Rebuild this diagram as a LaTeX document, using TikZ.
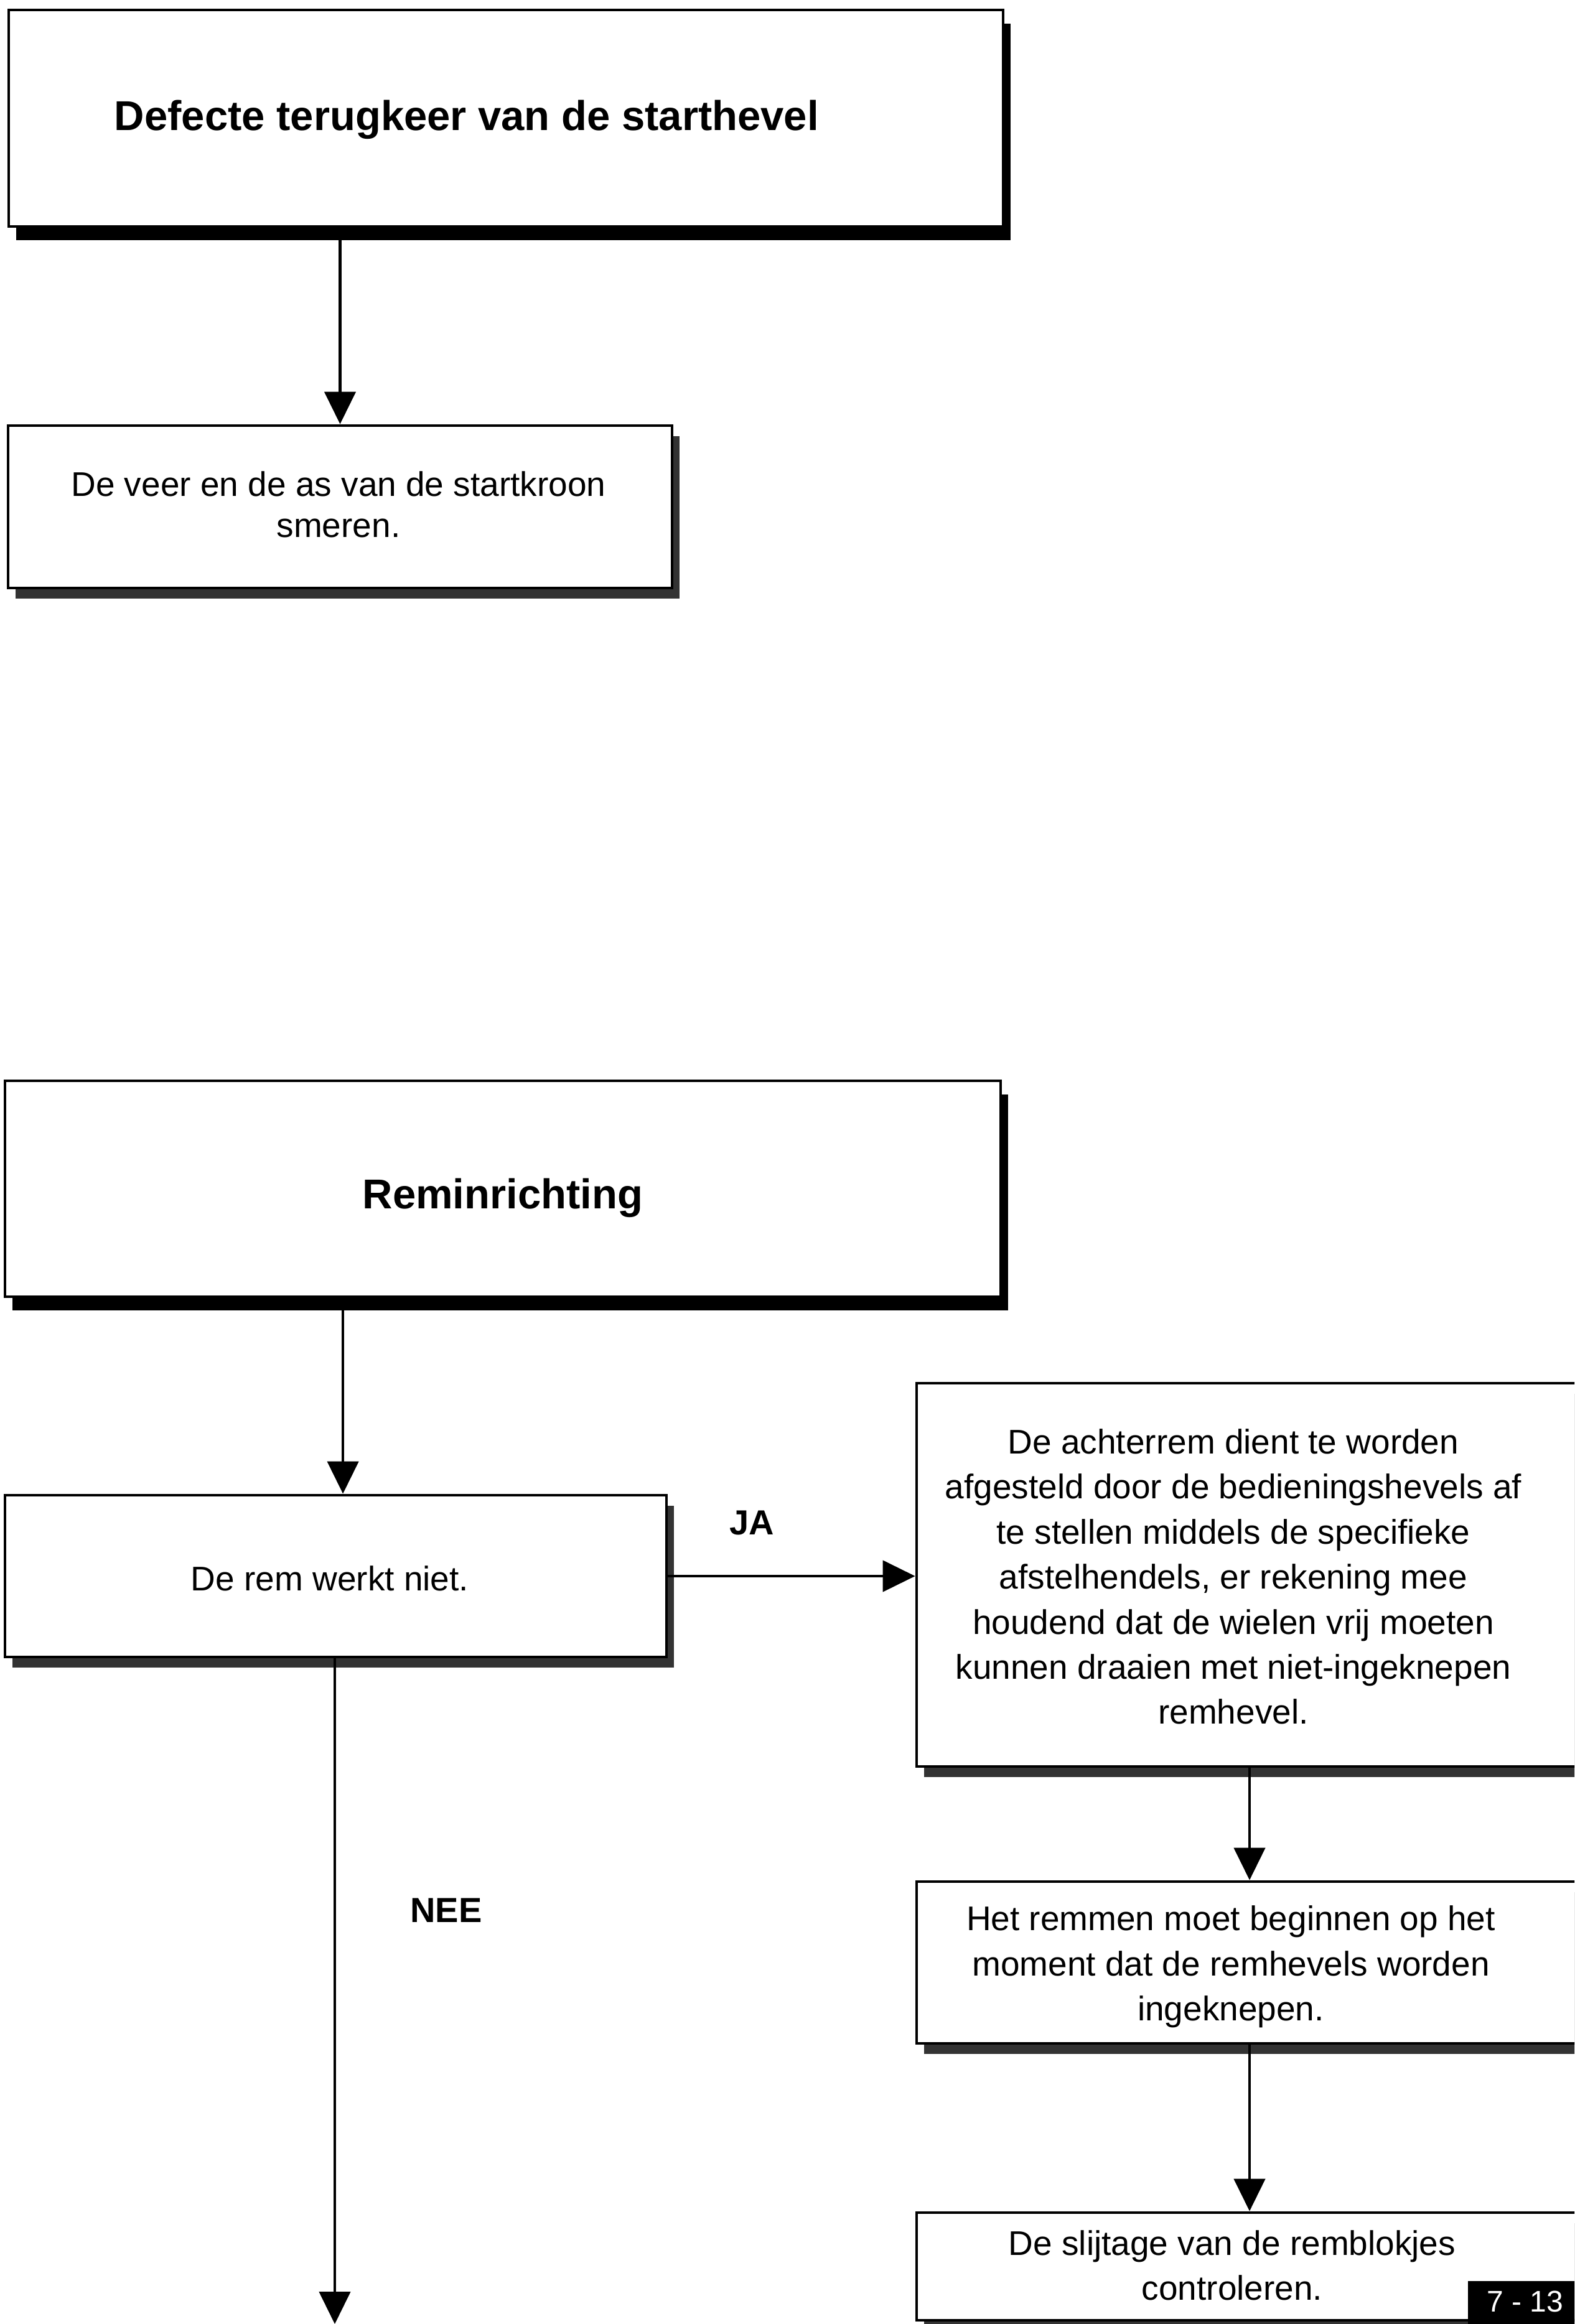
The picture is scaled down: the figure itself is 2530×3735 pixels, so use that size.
\documentclass[tikz,border=0pt]{standalone}
\usepackage{fontspec}
\setmainfont{Liberation Sans}
\usetikzlibrary{arrows.meta,shadows}

\begin{document}
\begin{tikzpicture}[x=0.25pt, y=-0.25pt,
  titlebox/.style={draw, line width=1.2pt, fill=white, inner sep=0pt,
    drop shadow={shadow xshift=3pt, shadow yshift=-5.5pt, fill=black, opacity=1}},
  stepbox/.style={draw, line width=1.2pt, fill=white, inner sep=0pt,
    drop shadow={shadow xshift=3pt, shadow yshift=-4.25pt, fill=black!80, opacity=1}},
  headtext/.style={font=\fontsize{16.75pt}{20pt}\selectfont\bfseries, inner sep=0pt},
  bodytext/.style={font=\fontsize{13.75pt}{18.1pt}\selectfont, align=center, inner sep=0pt},
  answer/.style={font=\fontsize{14pt}{16pt}\selectfont\bfseries, inner sep=0pt},
  flow/.style={line width=1.1pt, -{Triangle[length=13pt, width=12.5pt]}},
]
\useasboundingbox (0,0) rectangle (2530,3735);
\clip (0,0) rectangle (2530,3735);
\fill[white] (0,0) rectangle (2530,3735);

% --- starter return fault ---
\node[titlebox, minimum width=399.5pt, minimum height=87pt] (b1) at (813,190) {};
\node[headtext, anchor=base] (t1) at (750,210) {Defecte terugkeer van de starthevel};

\node[stepbox, minimum width=266.75pt, minimum height=65.25pt] (b2) at (546.5,814.5) {};
\node[bodytext, font=\fontsize{13.75pt}{16.5pt}\selectfont] (t2) at (544,811)
  {De veer en de as van de startkroon\\smeren.};

\draw[flow] (b1.south -| b2.north) -- (b2.north);

% --- brake system ---
\node[titlebox, minimum width=400pt, minimum height=86.75pt] (b3) at (808,1910.5) {};
\node[headtext, anchor=base] (t3) at (808,1942) {Reminrichting};

\node[stepbox, minimum width=265.75pt, minimum height=65pt] (b4) at (539.5,2533) {};
\node[bodytext] (t4) at (530,2537) {De rem werkt niet.};

\node[stepbox, minimum width=267.5pt, minimum height=154pt] (b5) at (2008,2531) {};
\node[bodytext] (t5) at (1982,2534)
  {De achterrem dient te worden\\
   afgesteld door de bedieningshevels af\\
   te stellen middels de specifieke\\
   afstelhendels, er rekening mee\\
   houdend dat de wielen vrij moeten\\
   kunnen draaien met niet-ingeknepen\\
   remhevel.};

\node[stepbox, minimum width=267.5pt, minimum height=65pt] (b6) at (2008,3154) {};
\node[bodytext] (t6) at (1978,3161)
  {Het remmen moet beginnen op het\\
   moment dat de remhevels worden\\
   ingeknepen.};

\node[stepbox, minimum width=267.5pt, minimum height=43.25pt] (b7) at (2008,3642.5) {};
\node[bodytext] (t7) at (1980,3640.5)
  {De slijtage van de remblokjes\\controleren.};

\coordinate (noend) at (538,3735);

\draw[flow] ([xshift=2.9pt]b4.north |- b3.south) -- ([xshift=2.9pt]b4.north);
\draw[flow] (b4.east) -- (b4.east -| b5.west);
\draw[flow] (b5.south) -- (b6.north);
\draw[flow] (b6.south) -- (b7.north);
\draw[flow] (b4.south -| noend) -- (noend);

\node[answer] (ja) at (1208,2447) {JA};
\node[answer] (nee) at (717,3070) {NEE};

% page number tab
\fill[black] (2359,3666) rectangle (2540,3745);
\node[font=\fontsize{12pt}{14pt}\selectfont, text=white, inner sep=0pt] (pg) at (2451,3698.5) {7 - 13};
\end{tikzpicture}
\end{document}
